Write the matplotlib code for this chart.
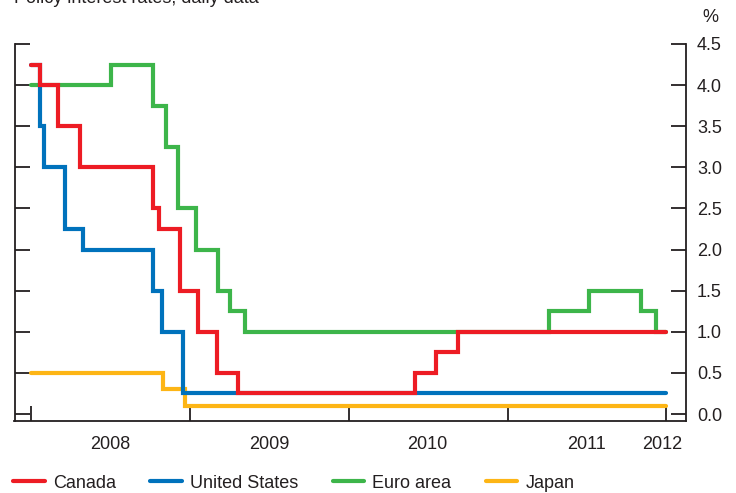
import matplotlib
matplotlib.use("Agg")
import matplotlib.pyplot as plt
import matplotlib.dates as mdates
from matplotlib.lines import Line2D
import datetime as dt

plt.rcParams['font.family'] = ['Liberation Sans', 'DejaVu Sans']

# ---- data (policy rate change dates and levels, %) ----
end_date = "2011-12-31"

canada_dates = ["2008-01-01", "2008-01-22", "2008-03-04", "2008-04-22", "2008-10-08",
                "2008-10-21", "2008-12-09", "2009-01-20", "2009-03-03", "2009-04-21",
                "2010-06-01", "2010-07-20", "2010-09-08"]
canada_rates = [4.25, 4.00, 3.50, 3.00, 2.50, 2.25, 1.50, 1.00, 0.50, 0.25, 0.50, 0.75, 1.00]

us_dates = ["2008-01-01", "2008-01-22", "2008-01-30", "2008-03-18", "2008-04-30",
            "2008-10-08", "2008-10-29", "2008-12-16"]
us_rates = [4.25, 3.50, 3.00, 2.25, 2.00, 1.50, 1.00, 0.25]

euro_dates = ["2008-01-01", "2008-07-03", "2008-10-08", "2008-11-06", "2008-12-04",
              "2009-01-15", "2009-03-05", "2009-04-02", "2009-05-07", "2011-04-07",
              "2011-07-07", "2011-11-03", "2011-12-08"]
euro_rates = [4.00, 4.25, 3.75, 3.25, 2.50, 2.00, 1.50, 1.25, 1.00, 1.25, 1.50, 1.25, 1.00]

japan_dates = ["2008-01-01", "2008-10-31", "2008-12-19"]
japan_rates = [0.50, 0.30, 0.10]

series_names = ["Canada", "United States", "Euro area", "Japan"]
colors = ["#ED1C24", "#0072BC", "#3DB54A", "#FDB515"]

y_ticks = [0.0, 0.5, 1.0, 1.5, 2.0, 2.5, 3.0, 3.5, 4.0, 4.5]
year_ticks = ["2008-01-01", "2009-01-01", "2010-01-01", "2011-01-01", "2012-01-01"]
year_label_pos = ["2008-07-01", "2009-07-01", "2010-07-01", "2011-07-01", "2011-12-22"]
year_labels = ["2008", "2009", "2010", "2011", "2012"]


def d(s):
    return dt.datetime.strptime(s, "%Y-%m-%d")


def stepped(dates, rates):
    x = [d(s) for s in dates] + [d(end_date)]
    y = list(rates) + [rates[-1]]
    return x, y


fig = plt.figure(figsize=(7.36, 4.93), dpi=100)
ax = fig.add_axes([14.5 / 736, 1 - 421 / 493, (686 - 14.5) / 736, (421 - 44) / 493])

all_series = {
    "Canada": (canada_dates, canada_rates),
    "United States": (us_dates, us_rates),
    "Euro area": (euro_dates, euro_rates),
    "Japan": (japan_dates, japan_rates),
}
zorders = {"Canada": 5, "United States": 4, "Euro area": 3, "Japan": 2}
for name, col in zip(series_names, colors):
    xs, ys = stepped(*all_series[name])
    ax.step(xs, ys, where="post", color=col, lw=3.0, zorder=zorders[name],
            solid_capstyle="round", solid_joinstyle="miter")

ax.set_xlim(d("2007-11-24"), d("2012-02-15"))
ax.set_ylim(-0.085, 4.5)

spine_col = "#231F20"
for s in ["left", "right", "bottom"]:
    ax.spines[s].set_color(spine_col)
    ax.spines[s].set_linewidth(1.3)
ax.spines["top"].set_visible(False)

ax.yaxis.tick_right()
ax.set_yticks(y_ticks)
ax.set_yticklabels([f"{v:.1f}" for v in y_ticks])
ax.tick_params(axis="y", which="major", direction="in", length=11, width=1.3,
               color=spine_col, left=True, right=True, labelleft=False,
               labelright=True, pad=8, labelsize=13, labelcolor="#231F20")

ax.set_xticks([d(s) for s in year_ticks])
ax.set_xticklabels([])
ax.set_xticks([d(s) for s in year_label_pos], minor=True)
ax.set_xticklabels(year_labels, minor=True)
ax.tick_params(axis="x", which="major", direction="in", length=11, width=1.3,
               color=spine_col)
ax.tick_params(axis="x", which="minor", length=0, pad=11, labelsize=13,
               labelcolor="#231F20")

fig.text(14 / 736, 1 - 3 / 493, "Policy interest rates, daily data", fontsize=13,
         color="#231F20", ha="left", va="baseline")
fig.text(710 / 736, 1 - 18 / 493, "%", fontsize=13, color="#231F20",
         ha="center", va="center")

handles = [Line2D([0], [0], color=c, lw=3.0, solid_capstyle="round") for c in colors]
leg = fig.legend(handles, series_names, loc="center left",
                 bbox_to_anchor=(6 / 736, 1 - 483 / 493), ncol=4, frameon=False,
                 fontsize=13, handlelength=1.75, handletextpad=0.45,
                 columnspacing=1.9, borderaxespad=0)
for t in leg.get_texts():
    t.set_color("#231F20")

fig.savefig("out.png", dpi=100)
